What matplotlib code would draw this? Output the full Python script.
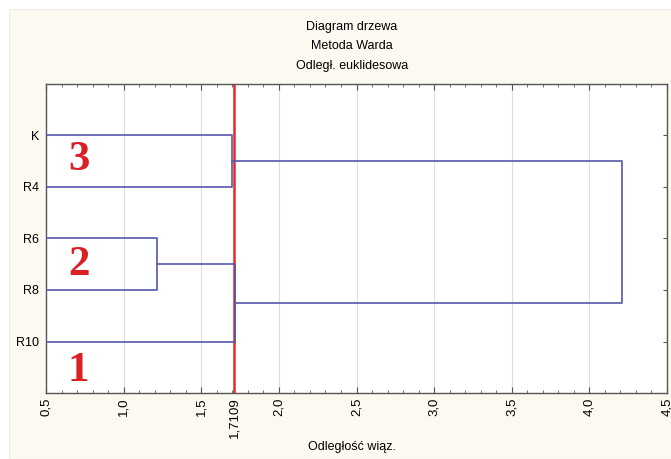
import matplotlib
matplotlib.use("Agg")
import matplotlib.pyplot as plt
from matplotlib.patches import Rectangle
import numpy as np

# leaves from bottom to top
leaves = ['R10', 'R8', 'R6', 'R4', 'K']
# merges: (cluster a, cluster b, linkage distance); new clusters get ids 5, 6, ...
merges = [(1, 2, 1.215), (3, 4, 1.700), (0, 5, 1.715), (6, 7, 4.21)]
cut_value = 1.7109
group_labels = ['1', '2', '3']
group_pos = [(0.71, 0.42), (0.71, 2.49), (0.71, 4.52)]

xticks = [0.5, 1.0, 1.5, 2.0, 2.5, 3.0, 3.5, 4.0, 4.5]

line_col = '#5656a8'
bg = '#fbf9f0'

plt.rcParams['font.family'] = ['Liberation Sans', 'DejaVu Sans']

fig = plt.figure(figsize=(6.71, 4.59), dpi=100)
fig.patches.append(Rectangle((9 / 671, 0), 1, 1 - 9 / 459, transform=fig.transFigure,
                             facecolor=bg, edgecolor='#ececec', lw=0.8, zorder=-10))
ax = fig.add_axes([46 / 671, 1 - 393 / 459, 621 / 671, 309 / 459])
ax.set_facecolor('white')

# draw dendrogram from merge list
pos = {i: (i + 1, 0.5) for i in range(len(leaves))}
for k, (a, b, h) in enumerate(merges):
    ya, xa = pos[a]
    yb, xb = pos[b]
    ax.plot([xa, h, h, xb], [ya, ya, yb, yb], color=line_col, lw=1.2, zorder=3)
    pos[len(leaves) + k] = ((ya + yb) / 2, h)

ax.axvline(cut_value, color='#e8262b', lw=1.8, zorder=2)

for t, (x, y) in zip(group_labels, group_pos):
    ax.text(x, y, t, color='#d92027', fontsize=31, fontweight='bold',
            family='Liberation Serif', ha='center', va='center')

ax.set_xlim(0.5, 4.5)
ax.set_ylim(0, 6)

ticks = sorted(xticks + [cut_value])
ax.set_xticks(ticks)
ax.set_xticklabels([(('%.1f' % t) if t != cut_value else '%.4f' % t).replace('.', ',') for t in ticks],
                   rotation=90, fontsize=9.5)
ax.set_xticks(np.arange(0.5, 4.51, 0.1), minor=True)
ax.set_yticks(range(1, len(leaves) + 1))
ax.set_yticklabels(leaves, fontsize=9)

ax.tick_params(axis='x', which='both', direction='in', top=True, color='#555555', pad=3)
ax.tick_params(axis='x', which='major', length=4)
ax.tick_params(axis='x', which='minor', length=2.5)
ax.tick_params(axis='y', which='both', left=False, right=True, direction='in',
               length=3, color='#555555', pad=5)

for t in xticks:
    ax.axvline(t, color='#dddddd', lw=0.8, zorder=1)

for s in ax.spines.values():
    s.set_color('#555555')
    s.set_linewidth(1.0)

fig.text(352 / 671, 1 - 27 / 459, 'Diagram drzewa', ha='center', va='center', fontsize=9)
fig.text(352 / 671, 1 - 46 / 459, 'Metoda Warda', ha='center', va='center', fontsize=9)
fig.text(352 / 671, 1 - 66 / 459, 'Odległ. euklidesowa', ha='center', va='center', fontsize=9)
fig.text(352 / 671, 1 - 447 / 459, 'Odległość wiąz.', ha='center', va='center', fontsize=9)

fig.savefig('out.png', dpi=100, facecolor='white')
